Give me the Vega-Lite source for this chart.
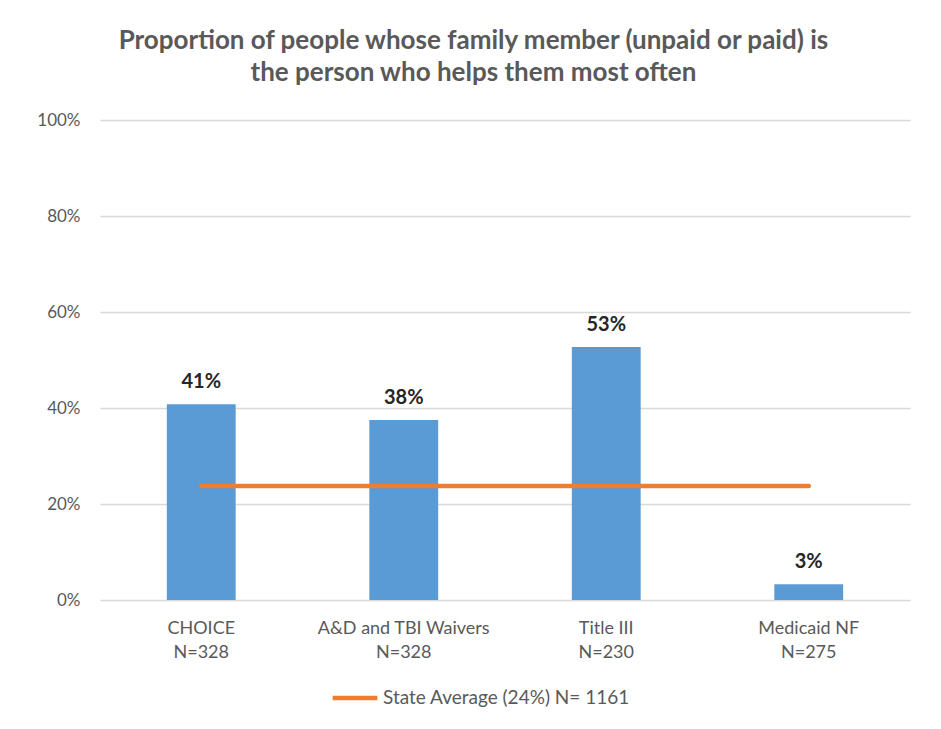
{
  "$schema": "https://vega.github.io/schema/vega-lite/v6.json",
  "width": 810,
  "height": 480,
  "autosize": {"type": "none"},
  "padding": {"left": 100, "top": 120, "right": 31, "bottom": 129},
  "background": "white",
  "config": {"view": {"stroke": null}},
  "title": {
    "text": ["Proportion of people whose family member (unpaid or paid) is", "the person who helps them most often"],
    "font": "Lato",
    "fontSize": 26,
    "fontWeight": "bold",
    "color": "#595959",
    "lineHeight": 32,
    "frame": "bounds",
    "anchor": "middle",
    "offset": 25
  },
  "data": {
    "values": [
      {"category": "CHOICE\nN=328", "value": 0.408, "label": "41%", "avg": 0.2375, "series": "State Average (24%) N= 1161"},
      {"category": "A&D and TBI Waivers\nN=328", "value": 0.375, "label": "38%", "avg": 0.2375, "series": "State Average (24%) N= 1161"},
      {"category": "Title III\nN=230", "value": 0.527, "label": "53%", "avg": 0.2375, "series": "State Average (24%) N= 1161"},
      {"category": "Medicaid NF\nN=275", "value": 0.033, "label": "3%", "avg": 0.2375, "series": "State Average (24%) N= 1161"}
    ]
  },
  "encoding": {
    "x": {
      "field": "category",
      "type": "nominal",
      "sort": null,
      "scale": {"paddingInner": 0.66, "paddingOuter": 0.33},
      "axis": {
        "title": null,
        "labelAngle": 0,
        "labelExpr": "split(datum.label, '\\n')",
        "labelFont": "Lato",
        "labelFontSize": 18,
        "labelColor": "#595959",
        "labelLineHeight": 24,
        "labelPadding": 19,
        "ticks": false,
        "domain": false,
        "grid": false
      }
    }
  },
  "layer": [
    {
      "mark": {"type": "bar", "color": "#5B9BD5"},
      "encoding": {
        "y": {
          "field": "value",
          "type": "quantitative",
          "scale": {"domain": [0, 1]},
          "axis": {
            "title": null,
            "format": ".0%",
            "values": [0, 0.2, 0.4, 0.6, 0.8, 1],
            "labelFont": "Lato",
            "labelFontSize": 17,
            "labelColor": "#595959",
            "labelPadding": 20,
            "ticks": false,
            "domain": false,
            "gridColor": "#D9D9D9",
            "gridWidth": 1.3
          }
        }
      }
    },
    {
      "mark": {"type": "text", "font": "Lato", "fontSize": 20, "fontWeight": "bold", "color": "#262626", "baseline": "bottom", "dy": -12},
      "encoding": {
        "y": {"field": "value", "type": "quantitative"},
        "text": {"field": "label"}
      }
    },
    {
      "mark": {"type": "line", "strokeWidth": 4.5, "strokeCap": "round"},
      "encoding": {
        "y": {"field": "avg", "type": "quantitative"},
        "color": {
          "field": "series",
          "type": "nominal",
          "scale": {"range": ["#ED7D31"]},
          "legend": {
            "title": null,
            "orient": "none",
            "legendX": 230,
            "legendY": 553,
            "symbolType": "stroke",
            "symbolStrokeWidth": 4.5,
            "symbolSize": 2000,
            "labelLimit": 0,
            "labelFont": "Lato",
            "labelFontSize": 19,
            "labelColor": "#595959",
            "labelOffset": 3
          }
        }
      }
    }
  ]
}
